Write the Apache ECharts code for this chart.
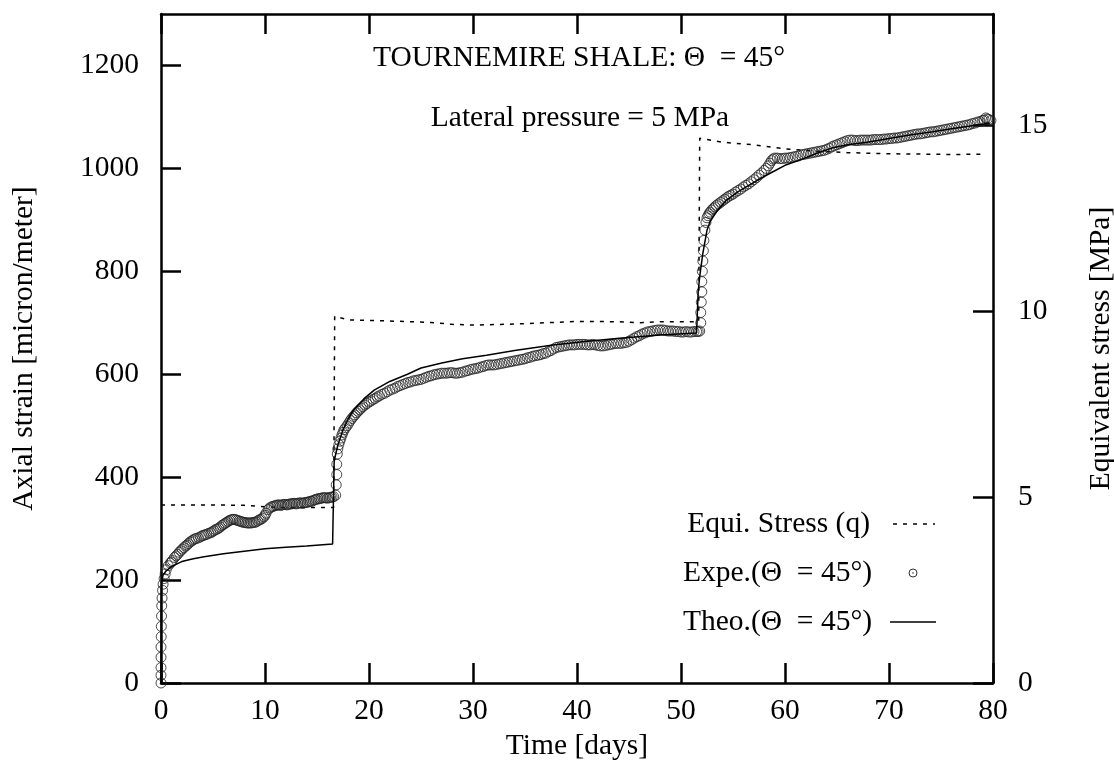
<!DOCTYPE html>
<html>
<head>
<meta charset="utf-8">
<script src="https://cdn.jsdelivr.net/npm/echarts@6/dist/echarts.min.js"></script>
<style>
html,body{margin:0;padding:0;background:#fff;}
#chart{width:1114px;height:774px;}
</style>
</head>
<body>
<div id="chart"></div>
<script>
// ---- data ----
const xTicks = [0, 10, 20, 30, 40, 50, 60, 70, 80];
const strainTicks = [0, 200, 400, 600, 800, 1000, 1200];
const stressTicks = [0, 5, 10, 15];

// Equivalent stress q [MPa] vs time [days]
const stressDays = [0, 5, 8, 10, 12, 14, 16.6, 16.7, 18, 22, 26, 28, 30, 33, 36, 40, 44, 46, 48, 51.7, 51.8, 54, 57, 60, 63, 66, 70, 73, 76, 79.2];
const stressVals = [4.79, 4.79, 4.78, 4.74, 4.72, 4.72, 4.72, 9.87, 9.77, 9.74, 9.70, 9.65, 9.63, 9.65, 9.68, 9.73, 9.72, 9.69, 9.72, 9.72, 14.66, 14.55, 14.48, 14.37, 14.31, 14.27, 14.24, 14.23, 14.22, 14.23];

// Experimental axial strain [micron/meter]
const expeDays = [
  0, 0, 0, 0, 0, 0.02, 0.03, 0.05, 0.07, 0.1, 0.15, 0.2, 0.3, 0.4, 0.5, 0.7, 0.9, 1.1, 1.3, 1.6,
  1.9, 2.2, 2.5, 2.8, 3.1, 3.4, 3.8, 4.1, 4.4, 4.8, 5.1, 5.4, 5.7, 6.0, 6.3, 6.6, 6.9, 7.2, 7.5, 7.8,
  8.1, 8.4, 8.7, 9.0, 9.3, 9.6, 9.9, 10.1, 10.3, 10.6, 10.9, 11.2, 11.5, 11.8, 12.1, 12.4, 12.7, 13.0, 13.3, 13.6,
  13.9, 14.2, 14.5, 14.8, 15.1, 15.4, 15.7, 16.0, 16.3, 16.6, 16.8, 16.85, 16.9, 16.9, 16.95, 17.0, 17.2, 17.4, 17.6, 17.9,
  18.2, 18.5, 18.8, 19.1, 19.4, 19.8, 20.2, 20.6, 21.0, 21.5, 22.0, 22.5, 23.0, 23.5, 24.0, 24.5, 25.0, 25.5, 26.0, 26.5,
  27.0, 27.5, 28.0, 28.5, 29.0, 29.5, 30.0, 30.5, 31.0, 31.5, 32.0, 32.5, 33.0, 33.5, 34.0, 34.5, 35.0, 35.5, 36.0, 36.5,
  37.0, 37.5, 38.0, 38.5, 39.0, 39.5, 40.0, 40.5, 41.0, 41.5, 42.0, 42.5, 43.0, 43.5, 44.0, 44.5, 45.0, 45.5, 46.0, 46.5,
  47.0, 47.5, 48.0, 48.5, 49.0, 49.5, 50.0, 50.5, 51.0, 51.5, 51.8, 51.9, 51.9, 51.95, 52.0, 52.0, 52.05, 52.1, 52.15, 52.2,
  52.3, 52.4, 52.6, 52.8, 53.1, 53.4, 53.8, 54.2, 54.6, 55.0, 55.5, 56.0, 56.5, 57.0, 57.5, 58.0, 58.4, 58.7, 59.0, 59.5,
  60.0, 60.5, 61.0, 61.5, 62.0, 62.5, 63.0, 63.5, 64.0, 64.5, 65.0, 65.5, 66.0, 66.5, 67.0, 67.5, 68.0, 68.5, 69.0, 69.5,
  70.0, 70.5, 71.0, 71.5, 72.0, 72.5, 73.0, 73.5, 74.0, 74.5, 75.0, 75.5, 76.0, 76.5, 77.0, 77.5, 78.0, 78.5, 79.0, 79.3,
  79.6, 79.8,
  // second interleaved pass (readings between the ones above)
  1.0, 1.45, 1.75, 2.05, 2.35, 2.65, 2.95, 3.25, 3.6, 3.95, 4.25, 4.6, 4.95, 5.25, 5.55, 5.85, 6.15, 6.45, 6.75, 7.05,
  7.35, 7.65, 7.95, 8.25, 8.55, 8.85, 9.15, 9.45, 9.75, 10.0, 10.45, 10.75, 11.05, 11.35, 11.65, 11.95, 12.25, 12.55, 12.85, 13.15,
  13.45, 13.75, 14.05, 14.35, 14.65, 14.95, 15.25, 15.55, 15.85, 16.15, 16.45,
  17.1, 17.3, 17.5, 17.75, 18.05, 18.35, 18.65, 18.95, 19.25, 19.6, 20.0, 20.4, 20.8, 21.25, 21.75, 22.25, 22.75, 23.25, 23.75, 24.25,
  24.75, 25.25, 25.75, 26.25, 26.75, 27.25, 27.75, 28.25, 28.75, 29.25, 29.75, 30.25, 30.75, 31.25, 31.75, 32.25, 32.75, 33.25, 33.75, 34.25,
  34.75, 35.25, 35.75, 36.25, 36.75, 37.25, 37.75, 38.25, 38.75, 39.25, 39.75, 40.25, 40.75, 41.25, 41.75, 42.25, 42.75, 43.25, 43.75, 44.25,
  44.75, 45.25, 45.75, 46.25, 46.75, 47.25, 47.75, 48.25, 48.75, 49.25, 49.75, 50.25, 50.75, 51.25, 51.65,
  52.5, 52.7, 52.95, 53.25, 53.6, 54.0, 54.4, 54.8, 55.25, 55.75, 56.25, 56.75, 57.25, 57.75, 58.2, 58.55, 58.85, 59.25, 59.75, 60.25,
  60.75, 61.25, 61.75, 62.25, 62.75, 63.25, 63.75, 64.25, 64.75, 65.25, 65.75, 66.25, 66.75, 67.25, 67.75, 68.25, 68.75, 69.25, 69.75, 70.25,
  70.75, 71.25, 71.75, 72.25, 72.75, 73.25, 73.75, 74.25, 74.75, 75.25, 75.75, 76.25, 76.75, 77.25, 77.75, 78.25, 78.75, 79.15, 79.45
];
const expeStrain = [
  0, 15, 30, 50, 70, 90, 110, 130, 150, 165, 180, 192, 203, 212, 220, 228, 233, 238, 244, 250,
  257, 263, 268, 274, 278, 281, 284, 287, 289, 292, 296, 299, 303, 308, 312, 316, 318, 317, 315, 313,
  312, 311, 311, 312, 315, 318, 323, 330, 337, 342, 344, 346, 345, 347, 346, 348, 349, 348, 350, 349,
  351, 352, 353, 356, 358, 359, 360, 359, 361, 362, 365, 385, 405, 425, 445, 455, 470, 482, 492, 500,
  510, 518, 525, 531, 537, 543, 548, 553, 558, 563, 569, 573, 578, 582, 585, 588, 590, 594, 597, 600,
  602, 602, 603, 602, 604, 607, 610, 612, 615, 618, 618, 620, 622, 624, 626, 628, 630, 633, 636, 638,
  641, 646, 652, 654, 656, 657, 658, 658, 657, 658, 656, 655, 657, 659, 660, 661, 664, 670, 675, 680,
  683, 685, 686, 685, 684, 683, 682, 683, 682, 683, 684, 700, 720, 740, 760, 780, 800, 820, 840, 860,
  880, 895, 908, 915, 922, 928, 934, 940, 946, 950, 957, 964, 970, 978, 987, 996, 1005, 1015, 1020, 1019,
  1020, 1021, 1023, 1026, 1028, 1030, 1032, 1034, 1037, 1042, 1046, 1050, 1054, 1055, 1054, 1055, 1055, 1056, 1056, 1057,
  1058, 1059, 1060, 1062, 1064, 1066, 1067, 1069, 1071, 1072, 1074, 1076, 1078, 1080, 1082, 1084, 1087, 1090, 1093, 1098,
  1095, 1093,
  235, 247, 254, 260, 266, 271, 276, 280, 282, 286, 288, 291, 294, 298, 301, 306, 310, 314, 317, 318,
  316, 314, 312, 311, 311, 312, 313, 317, 320, 326, 340, 343, 345, 346, 346, 347, 347, 348, 349, 349,
  350, 350, 351, 353, 355, 357, 358, 360, 360, 360, 361,
  463, 476, 487, 496, 505, 514, 521, 528, 534, 540, 546, 551, 556, 561, 566, 571, 576, 580, 584, 587,
  589, 592, 596, 599, 601, 602, 603, 602, 603, 606, 609, 611, 614, 617, 618, 619, 621, 623, 625, 627,
  629, 632, 635, 637, 640, 644, 649, 653, 655, 657, 657, 658, 658, 657, 657, 655, 656, 658, 660, 660,
  662, 667, 673, 678, 682, 684, 686, 686, 684, 684, 683, 682, 682, 683, 683,
  904, 912, 919, 925, 931, 937, 943, 948, 954, 960, 967, 974, 982, 991, 1000, 1010, 1018, 1020, 1019, 1020,
  1022, 1024, 1027, 1029, 1031, 1033, 1035, 1039, 1044, 1048, 1052, 1055, 1054, 1055, 1055, 1055, 1056, 1056, 1057, 1058,
  1059, 1061, 1063, 1065, 1067, 1068, 1070, 1071, 1073, 1075, 1077, 1079, 1081, 1083, 1085, 1088, 1091, 1094, 1096
];

// Theoretical axial strain
const theoDays = [0, 0.02, 0.05, 0.2, 0.5, 1, 2, 3, 4, 6, 8, 10, 12, 14, 16.5, 16.6,
  16.65, 16.8, 17.0, 17.5, 18.0, 18.5, 19.5, 20.5, 22, 23.7, 25, 27, 29, 31.3, 34, 37.7, 41, 44.1, 48, 51.5, 51.6,
  51.65, 51.8, 52.1, 52.5, 52.8, 53.5, 54.4, 55.5, 56.6, 57.7, 58.8, 60, 61.4, 63, 64.6, 66, 67.9, 70, 72, 74.2, 76, 78, 79.7];
const theoStrain = [0, 150, 195, 210, 218, 226, 236, 241, 245, 251, 256, 261, 264, 266, 270, 270,
  430, 445, 462, 492, 513, 530, 552, 569, 586, 600, 612, 622, 630, 637, 646, 657, 664, 670, 676, 680, 680,
  760, 790, 835, 880, 897, 918, 939, 955, 968, 981, 993, 1006, 1016, 1029, 1040, 1046, 1051, 1058, 1065, 1071, 1077, 1083, 1088];

const titleLine1 = 'TOURNEMIRE SHALE: \u0398  = 45\u00B0';
const titleLine2 = 'Lateral pressure = 5 MPa';
const legendNames = ['Equi. Stress (q)', 'Expe.(\u0398  = 45\u00B0)', 'Theo.(\u0398  = 45\u00B0)'];

// ---- chart ----
const FONT = "'Liberation Serif', 'DejaVu Serif', serif";
const FS = 29.5;
const zip = (a, b) => a.map((v, i) => [v, b[i]]);
const plain = v => String(v);

const chart = echarts.init(document.getElementById('chart'), null, {renderer: 'canvas'});
const axisLine = {show: true, onZero: false, lineStyle: {color: '#000', width: 2.5}};
const tick = {show: true, inside: true, length: 20, lineStyle: {color: '#000', width: 2.5}};
const labelStyle = {color: '#000', fontFamily: FONT, fontSize: FS};

chart.setOption({
  animation: false,
  backgroundColor: '#fff',
  grid: {left: 161, right: 121, top: 14, bottom: 91, containLabel: false, outerBoundsMode: 'none'},
  xAxis: [
    {type: 'value', position: 'bottom', min: xTicks[0], max: xTicks[xTicks.length - 1], interval: 10,
     axisLine: axisLine, axisTick: tick, splitLine: {show: false},
     axisLabel: Object.assign({margin: 13, formatter: plain}, labelStyle),
     name: 'Time [days]', nameLocation: 'middle', nameGap: 42,
     nameTextStyle: labelStyle},
    {type: 'value', position: 'top', min: xTicks[0], max: xTicks[xTicks.length - 1], interval: 10,
     axisLine: axisLine, axisTick: tick, splitLine: {show: false}, axisLabel: {show: false}}
  ],
  yAxis: [
    {type: 'value', position: 'left', min: strainTicks[0], max: 1300, interval: 200,
     axisLine: axisLine, axisTick: tick, splitLine: {show: false},
     axisLabel: Object.assign({margin: 22, showMaxLabel: false, formatter: plain}, labelStyle),
     name: 'Axial strain [micron/meter]', nameLocation: 'middle', nameGap: 122,
     nameTextStyle: labelStyle},
    {type: 'value', position: 'right', min: stressTicks[0], max: 18, interval: 5,
     axisLine: axisLine, axisTick: tick, splitLine: {show: false},
     axisLabel: Object.assign({margin: 25, showMaxLabel: false, formatter: plain}, labelStyle),
     name: 'Equivalent stress [MPa]', nameLocation: 'middle', nameGap: 93,
     nameTextStyle: labelStyle}
  ],
  series: [
    {name: legendNames[0], type: 'line', xAxisIndex: 0, yAxisIndex: 1,
     data: zip(stressDays, stressVals), symbol: 'none',
     lineStyle: {color: '#000', width: 1.5, type: [4, 6]}, z: 2},
    {name: legendNames[1], type: 'scatter', xAxisIndex: 0, yAxisIndex: 0,
     data: zip(expeDays, expeStrain), symbol: 'circle', symbolSize: 10,
     itemStyle: {color: 'rgba(0,0,0,0)', borderColor: '#222', borderWidth: 1}, z: 3},
    {name: legendNames[2], type: 'line', xAxisIndex: 0, yAxisIndex: 0,
     data: zip(theoDays, theoStrain), symbol: 'none',
     lineStyle: {color: '#000', width: 1.5}, z: 4}
  ],
  graphic: [
    {type: 'text', style: {text: titleLine1, x: 579, y: 58, align: 'center', verticalAlign: 'middle', font: FS + 'px ' + FONT, fill: '#000'}},
    {type: 'text', style: {text: titleLine2, x: 580, y: 118, align: 'center', verticalAlign: 'middle', font: FS + 'px ' + FONT, fill: '#000'}},
    {type: 'text', style: {text: legendNames[0], x: 870, y: 524, align: 'right', verticalAlign: 'middle', font: FS + 'px ' + FONT, fill: '#000'}},
    {type: 'text', style: {text: legendNames[1], x: 872, y: 573, align: 'right', verticalAlign: 'middle', font: FS + 'px ' + FONT, fill: '#000'}},
    {type: 'text', style: {text: legendNames[2], x: 872, y: 622, align: 'right', verticalAlign: 'middle', font: FS + 'px ' + FONT, fill: '#000'}},
    {type: 'line', shape: {x1: 893, y1: 524, x2: 935, y2: 524}, style: {stroke: '#000', lineWidth: 1.5, lineDash: [4, 6]}},
    {type: 'circle', shape: {cx: 913, cy: 573, r: 4}, style: {stroke: '#333', fill: 'none', lineWidth: 1}},
    {type: 'circle', shape: {cx: 913, cy: 573, r: 0.8}, style: {fill: '#333'}},
    {type: 'line', shape: {x1: 890, y1: 622, x2: 936, y2: 622}, style: {stroke: '#000', lineWidth: 1.5}}
  ]
});
</script>
</body>
</html>
